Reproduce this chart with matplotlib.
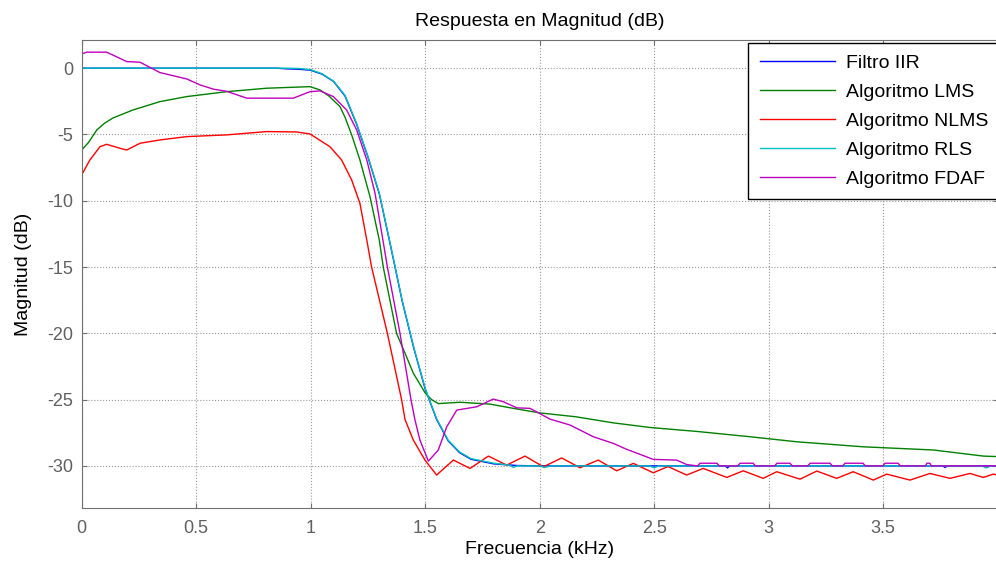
import matplotlib
matplotlib.use('Agg')
import matplotlib.pyplot as plt

# curves (kHz, dB)
freq_iir = [0, 0.85, 0.9, 0.95, 1.0, 1.05, 1.1, 1.15, 1.2, 1.25, 1.3, 1.35, 1.4, 1.45,
            1.5, 1.55, 1.6, 1.65, 1.7, 1.8, 1.9, 2.0, 2.81, 2.82, 2.83, 3.76, 3.77, 3.78, 4.0]
mag_iir = [0, 0, -0.05, -0.08, -0.15, -0.45, -1.0, -2.1, -4.2, -6.7, -9.5, -13.5, -17.6, -21.1,
           -24.2, -26.5, -28.1, -29.0, -29.5, -29.85, -29.97, -30, -30, -30.15, -30, -30, -30.12, -30, -30]

freq_lms = [0, 0.03, 0.066, 0.1, 0.137, 0.224, 0.342, 0.459, 0.633, 0.808, 0.997, 1.041,
            1.08, 1.128, 1.15, 1.179, 1.215, 1.259, 1.3, 1.317, 1.375, 1.412, 1.448, 1.5,
            1.528, 1.557, 1.652, 1.783, 1.885, 2.0, 2.16, 2.32, 2.48, 2.686, 2.918, 3.122,
            3.413, 3.719, 3.937, 4.0]
mag_lms = [-6.17, -5.6, -4.66, -4.15, -3.75, -3.15, -2.52, -2.14, -1.77, -1.51, -1.39, -1.64,
           -2.1, -2.9, -3.7, -5.03, -6.92, -9.69, -13.0, -15.0, -20.0, -21.5, -23.0, -24.5,
           -25.0, -25.3, -25.2, -25.34, -25.66, -26.0, -26.3, -26.75, -27.1, -27.4, -27.8, -28.18,
           -28.56, -28.8, -29.26, -29.3]

freq_nlms = [0, 0.036, 0.08, 0.109, 0.167, 0.197, 0.255, 0.342, 0.459, 0.633, 0.808, 0.939,
             0.997, 1.084, 1.135, 1.179, 1.215, 1.245, 1.266, 1.335, 1.397, 1.412, 1.448, 1.499,
             1.55, 1.623, 1.696, 1.776, 1.856, 1.936, 2.016, 2.096, 2.176, 2.256, 2.336, 2.409,
             2.496, 2.56, 2.642, 2.714, 2.817, 2.889, 2.976, 3.035, 3.137, 3.21, 3.297, 3.369,
             3.457, 3.515, 3.617, 3.704, 3.792, 3.879, 3.937, 3.981, 4.0]
mag_nlms = [-8.05, -6.92, -5.92, -5.74, -6.04, -6.17, -5.66, -5.41, -5.16, -5.03, -4.78, -4.81,
            -4.96, -5.92, -6.92, -8.43, -10.19, -12.96, -15.0, -20.0, -25.0, -26.5, -28.05, -29.56,
            -30.69, -29.56, -30.19, -29.26, -29.94, -29.26, -30.07, -29.4, -30.14, -29.56, -30.37, -29.81,
            -30.52, -30.05, -30.69, -30.19, -30.87, -30.37, -30.94, -30.44, -31.0, -30.39, -30.94, -30.44,
            -31.07, -30.62, -31.07, -30.57, -30.94, -30.57, -30.87, -30.62, -30.7]

freq_rls = [0, 0.9, 0.95, 1.0, 1.05, 1.1, 1.15, 1.2, 1.25, 1.3, 1.35, 1.4, 1.45,
            1.5, 1.55, 1.6, 1.65, 1.7, 1.8, 1.87, 1.885, 1.9, 2.0, 2.02, 2.05, 2.48, 2.5, 2.52,
            3.93, 3.95, 3.97, 4.0]
mag_rls = [0, 0, -0.02, -0.12, -0.42, -0.98, -2.05, -4.15, -6.65, -9.45, -13.45, -17.55, -21.05,
           -24.15, -26.45, -28.05, -28.95, -29.45, -29.8, -29.95, -30.12, -30, -30, -30.12, -30, -30, -30.15, -30,
           -30, -30.15, -30, -30]

freq_fdaf = [0, 0.022, 0.109, 0.197, 0.255, 0.342, 0.459, 0.517, 0.575, 0.633, 0.721, 0.924,
             0.997, 1.041, 1.099, 1.157, 1.201, 1.245, 1.281, 1.31, 1.335, 1.39, 1.438, 1.455,
             1.477, 1.514, 1.557, 1.594, 1.638, 1.725, 1.797, 1.841, 1.9, 1.958, 2.045, 2.133,
             2.234, 2.321, 2.38, 2.496, 2.598, 2.642, 2.69, 2.7, 2.774, 2.784, 2.865, 2.875,
             2.932, 2.942, 3.026, 3.036, 3.093, 3.103, 3.171, 3.181, 3.268, 3.278, 3.323, 3.333,
             3.412, 3.422, 3.498, 3.508, 3.565, 3.575, 3.685, 3.691, 3.704, 3.71, 4.0]
mag_fdaf = [1.08, 1.21, 1.21, 0.5, 0.45, -0.33, -0.81, -1.26, -1.58, -1.74, -2.26, -2.26,
            -1.77, -1.71, -2.14, -3.15, -4.66, -6.92, -9.43, -12.4, -15.0, -20.0, -25.0, -26.5,
            -28.05, -29.64, -28.81, -27.05, -25.79, -25.54, -24.96, -25.16, -25.62, -25.66, -26.47, -26.92,
            -27.8, -28.3, -28.75, -29.51, -29.56, -29.9, -30, -29.8, -29.8, -30, -30, -29.8,
            -29.8, -30, -30, -29.8, -29.8, -30, -30, -29.8, -29.8, -30, -30, -29.8,
            -29.8, -30, -30, -29.8, -29.8, -30, -30, -29.8, -29.8, -30, -30]

series_labels = ['Filtro IIR', 'Algoritmo LMS', 'Algoritmo NLMS', 'Algoritmo RLS', 'Algoritmo FDAF']
series_colors = ['#0000ff', '#008000', '#ff0000', '#00bfbf', '#bf00bf']
x_ticks = [0, 0.5, 1, 1.5, 2, 2.5, 3, 3.5]
x_tick_labels = ['0', '0.5', '1', '1.5', '2', '2.5', '3', '3.5']
y_ticks = [0, -5, -10, -15, -20, -25, -30]

plt.rcParams['font.family'] = ['Liberation Sans', 'DejaVu Sans']
plt.rcParams['axes.unicode_minus'] = False

fig = plt.figure(figsize=(9.96, 5.67), dpi=100)
ax = fig.add_axes([0.082, 0.1035, 0.9197, 0.826])

curves = [(freq_iir, mag_iir), (freq_lms, mag_lms), (freq_nlms, mag_nlms),
          (freq_rls, mag_rls), (freq_fdaf, mag_fdaf)]
for (f, m), lab, col in zip(curves, series_labels, series_colors):
    ax.plot(f, m, color=col, lw=1.0, label=lab)

ax.set_xlim(0, 4)
ax.set_ylim(-33.2, 2.13)
ax.set_xticks(x_ticks)
ax.set_xticklabels(x_tick_labels)
ax.set_yticks(y_ticks)

ax.grid(True, linestyle=':', color='#999999', lw=0.8)
for s in ax.spines.values():
    s.set_color('#707070')
ax.tick_params(direction='in', top=True, right=True, length=3.5, color='#707070',
               labelcolor='#606060', labelsize=13, pad=8.5)
ax.tick_params(axis='y', pad=6)

ax.set_title('Respuesta en Magnitud (dB)', fontsize=14, pad=10)
ax.set_xlabel('Frecuencia (kHz)', fontsize=14, labelpad=2.5)
ax.set_ylabel('Magnitud (dB)', fontsize=14, labelpad=11)

leg = ax.legend(loc='upper left', bbox_to_anchor=(0.7274, 0.9942), borderaxespad=0,
                fontsize=14, handlelength=3.9, handletextpad=0.55, labelspacing=0.58,
                borderpad=0.6, fancybox=False, framealpha=1, edgecolor='black')
leg.get_frame().set_linewidth(1.0)

fig.savefig('out.png', dpi=100)
